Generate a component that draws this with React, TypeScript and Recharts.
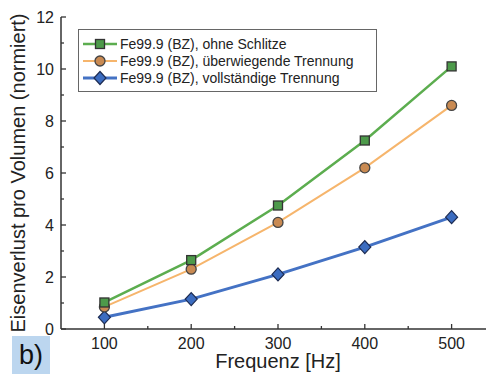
import { LineChart, Line, XAxis, YAxis, Legend, Label } from "recharts";

const freqs = [100, 200, 300, 400, 500];
const ohneSchlitze = [1.02, 2.65, 4.75, 7.25, 10.1];
const ueberwiegend = [0.85, 2.3, 4.1, 6.2, 8.6];
const vollstaendig = [0.45, 1.15, 2.1, 3.15, 4.3];

const xTicks = [100, 150, 200, 250, 300, 350, 400, 450, 500];
const xLabels = [100, 200, 300, 400, 500];
const yTicks = [0, 1, 2, 3, 4, 5, 6, 7, 8, 9, 10, 11, 12];
const yLabels = [0, 2, 4, 6, 8, 10, 12];

const seriesNames = [
  "Fe99.9 (BZ), ohne Schlitze",
  "Fe99.9 (BZ), überwiegende Trennung",
  "Fe99.9 (BZ), vollständige Trennung",
];

const chartData = freqs.map((f, i) => ({
  f,
  a: ohneSchlitze[i],
  b: ueberwiegend[i],
  c: vollstaendig[i],
}));

const FONT = "'Liberation Sans', Arial, sans-serif";
const AXIS = "#333";

const GREEN = "#5cad4f";
const ORANGE = "#f6b56c";
const BLUE = "#4472c4";

const square = (cx: number, cy: number, key?: any) => (
  <rect key={key} x={cx - 4.5} y={cy - 4.5} width={9} height={9} fill="#4d9a4a" stroke="#333" strokeWidth={1.3} />
);
const circle = (cx: number, cy: number, key?: any) => (
  <circle key={key} cx={cx} cy={cy} r={5} fill="#c98a52" stroke="#444" strokeWidth={1.3} />
);
const diamond = (cx: number, cy: number, key?: any) => (
  <path key={key} d={`M${cx},${cy - 6.5}L${cx + 6},${cy}L${cx},${cy + 6.5}L${cx - 6},${cy}Z`} fill="#3b6cc0" stroke="#1c2b52" strokeWidth={1.2} />
);

const XTick = (props: any) => {
  const { x, y, payload } = props;
  const major = xLabels.includes(payload.value);
  const ay = y - 9;
  return (
    <g>
      <line x1={x} x2={x} y1={ay} y2={ay - (major ? 5 : 3)} stroke={AXIS} strokeWidth={1.3} />
      {major && (
        <text x={x} y={y} dy="0.71em" textAnchor="middle" fontSize={16} fontFamily={FONT} fill="#222">
          {payload.value}
        </text>
      )}
    </g>
  );
};

const TopTick = (props: any) => {
  const { x, y, payload } = props;
  const major = xLabels.includes(payload.value);
  return <line x1={x} x2={x} y1={y} y2={y + (major ? 5 : 3)} stroke={AXIS} strokeWidth={1.3} />;
};

const YTick = (props: any) => {
  const { x, y, payload } = props;
  const major = yLabels.includes(payload.value);
  const ax = x + 7;
  return (
    <g>
      <line x1={ax} x2={ax + (major ? 5 : 3)} y1={y} y2={y} stroke={AXIS} strokeWidth={1.3} />
      {major && (
        <text x={x} y={y} dy="0.36em" textAnchor="end" fontSize={16} fontFamily={FONT} fill="#222">
          {payload.value}
        </text>
      )}
    </g>
  );
};

const LegendBox = () => {
  const markers = [
    { color: GREEN, w: 2.5, m: square },
    { color: ORANGE, w: 2, m: circle },
    { color: BLUE, w: 3, m: diamond },
  ];
  return (
    <div
      style={{
        border: "1px solid #666",
        background: "#fff",
        padding: "5px 0 5px 3px",
        fontFamily: FONT,
        fontSize: 14,
        color: "#222",
        width: 294,
      }}
    >
      {seriesNames.map((name, i) => (
        <div key={name} style={{ display: "flex", alignItems: "center", height: 17 }}>
          <svg width={36} height={16} style={{ marginRight: 2 }}>
            <line x1={1} x2={35} y1={8} y2={8} stroke={markers[i].color} strokeWidth={markers[i].w} />
            {markers[i].m(18, 8)}
          </svg>
          <span>{name}</span>
        </div>
      ))}
    </div>
  );
};

export default function App() {
  return (
    <div style={{ position: "absolute", left: 0, top: 0, width: 486, height: 374, overflow: "hidden", background: "#fff" }}>
      <LineChart width={496} height={374} data={chartData} margin={{ top: 17, right: 1, left: 0, bottom: 0 }}>
        <XAxis
          dataKey="f"
          type="number"
          domain={[50, 550]}
          ticks={xTicks}
          interval={0}
          height={45}
          tickSize={0}
          tickMargin={9}
          tick={<XTick />}
          axisLine={{ stroke: AXIS, strokeWidth: 1.5 }}
        >
          <Label
            content={(p: any) => {
              const vb = p.viewBox;
              return (
                <text x={vb.x + vb.width / 2} y={vb.y + 39} textAnchor="middle" fontSize={20} fontFamily={FONT} fill="#222">
                  Frequenz [Hz]
                </text>
              );
            }}
          />
        </XAxis>
        <XAxis
          xAxisId="top"
          orientation="top"
          type="number"
          domain={[50, 550]}
          ticks={xTicks}
          interval={0}
          height={0}
          tickSize={0}
          tickMargin={0}
          tick={<TopTick />}
          axisLine={{ stroke: AXIS, strokeWidth: 1.5 }}
        />
        <YAxis
          type="number"
          domain={[0, 12]}
          ticks={yTicks}
          interval={0}
          width={61}
          tickSize={0}
          tickMargin={7}
          tick={<YTick />}
          axisLine={{ stroke: AXIS, strokeWidth: 1.5 }}
        >
          <Label
            content={(p: any) => {
              const vb = p.viewBox;
              const cx = vb.x + 18;
              const cy = vb.y + vb.height / 2;
              return (
                <text
                  x={cx}
                  y={cy}
                  transform={`rotate(-90 ${cx} ${cy})`}
                  textAnchor="middle"
                  dominantBaseline="central"
                  fontSize={20}
                  fontFamily={FONT}
                  fill="#222"
                >
                  Eisenverlust pro Volumen (normiert)
                </text>
              );
            }}
          />
        </YAxis>
        <Legend
          layout="vertical"
          align="center"
          verticalAlign="middle"
          wrapperStyle={{ left: 78, top: 29, width: "auto" }}
          content={() => <LegendBox />}
        />
        <Line
          dataKey="c"
          name={seriesNames[2]}
          stroke={BLUE}
          strokeWidth={3}
          isAnimationActive={false}
          dot={(p: any) => diamond(p.cx, p.cy, p.index)}
        />
        <Line
          dataKey="b"
          name={seriesNames[1]}
          stroke={ORANGE}
          strokeWidth={2}
          isAnimationActive={false}
          dot={(p: any) => circle(p.cx, p.cy, p.index)}
        />
        <Line
          dataKey="a"
          name={seriesNames[0]}
          stroke={GREEN}
          strokeWidth={2.5}
          isAnimationActive={false}
          dot={(p: any) => square(p.cx, p.cy, p.index)}
        />
      </LineChart>
      <div
        style={{
          position: "absolute",
          left: 12,
          top: 336,
          width: 38,
          height: 38,
          background: "#bcd6ef",
          fontFamily: FONT,
          fontSize: 27,
          color: "#111",
          lineHeight: "38px",
          textAlign: "center",
        }}
      >
        b)
      </div>
    </div>
  );
}
